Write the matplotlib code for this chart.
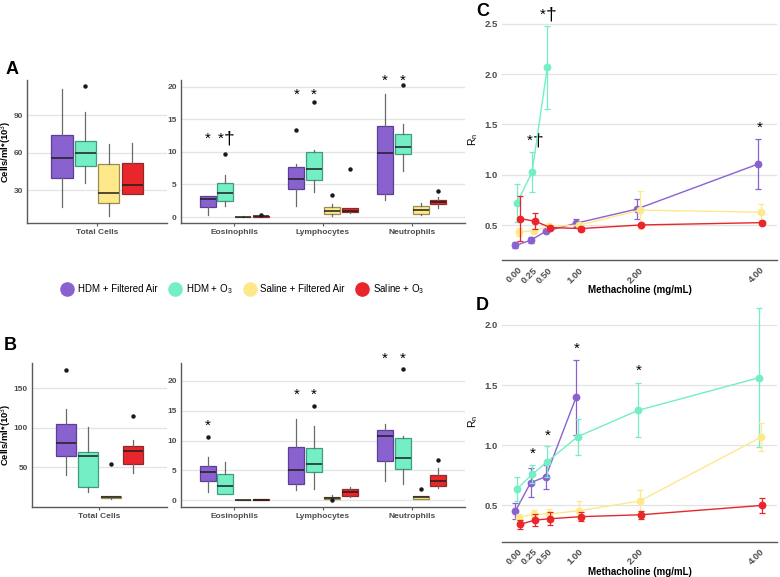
import numpy as np
import matplotlib
matplotlib.use("Agg")
import matplotlib.pyplot as plt
from matplotlib.lines import Line2D

plt.rcParams['font.family'] = ['Liberation Sans', 'DejaVu Sans']
plt.rcParams['mathtext.fontset'] = 'custom'
plt.rcParams['mathtext.rm'] = 'Liberation Sans'
plt.rcParams['mathtext.it'] = 'Liberation Sans:italic'
plt.rcParams['mathtext.bf'] = 'Liberation Sans:bold'

# ---- data ----
groups = ["HDM + Filtered Air", "HDM + O$_3$", "Saline + Filtered Air", "Saline + O$_3$"]
fills = ['#8a62d0', '#74eec4', '#fde98c', '#e8262b']
edges = ['#5b3f96', '#3f9c7c', '#9a8c4c', '#8e2a2a']
cells = ["Eosinophils", "Lymphocytes", "Neutrophils"]

# A: total cells, one entry per group  (q1, med, q3, whisker lo, whisker hi, outliers)
A_tot_q1 = [39.5, 49, 19.7, 27]
A_tot_med = [56, 60, 27.6, 34]
A_tot_q3 = [74, 69, 51, 52]
A_tot_lo = [16.5, 36, 9.3, 27]
A_tot_hi = [111, 92.4, 67, 68]
A_tot_out = [[], [113], [], []]

# A: cell types, rows = cells, cols = groups
A_q1 = [[1.55, 2.5, 0.0, 0.05], [4.36, 5.74, 0.5, 0.72], [3.6, 9.6, 0.5, 2.05]]
A_med = [[2.7, 3.76, 0.02, 0.1], [5.9, 7.4, 0.92, 1.0], [9.85, 10.7, 1.03, 2.3]]
A_q3 = [[3.25, 5.15, 0.05, 0.12], [7.6, 9.9, 1.54, 1.33], [13.95, 12.8, 1.64, 2.67]]
A_lo = [[0.4, 1.7, 0.0, 0.05], [1.7, 3.85, 0.1, 0.6], [2.56, 7.1, 0.26, 1.44]]
A_hi = [[3.3, 6.5, 0.1, 0.15], [8.2, 10.25, 2.05, 1.4], [18.9, 14.3, 2.15, 3.1]]
A_out = [[[], [9.7], [], [0.25]], [[13.3], [17.6], [3.4], [7.3]], [[], [20.2], [], [3.95]]]

# B: total cells
B_tot_q1 = [64.7, 24.8, 10.5, 54.6]
B_tot_med = [80.3, 64.3, 12.2, 70.6]
B_tot_q3 = [104.2, 69, 13.9, 77.3]
B_tot_lo = [40, 19.3, 10, 43.3]
B_tot_hi = [123.5, 101, 14, 84.5]
B_tot_out = [[173.5], [], [54], [114.7]]

# B: cell types
B_q1 = [[3.24, 1.12, 0.0, 0.05], [2.79, 4.74, 0.17, 0.73], [6.64, 5.19, 0.28, 2.46]]
B_med = [[4.69, 2.46, 0.03, 0.1], [5.08, 6.0, 0.33, 1.4], [10.8, 7.03, 0.5, 3.18]]
B_q3 = [[5.75, 4.35, 0.06, 0.15], [8.87, 8.8, 0.5, 1.9], [11.8, 10.4, 0.73, 4.18]]
B_lo = [[1.45, 1.0, 0.0, 0.05], [1.67, 1.95, 0.0, 0.6], [3.24, 2.68, 0.2, 2.0]]
B_hi = [[7.3, 6.47, 0.1, 0.2], [13.6, 12.4, 0.9, 2.2], [12.7, 10.8, 0.8, 5.36]]
B_out = [[[10.66], [], [], []], [[], [15.7], [0.0], []], [[], [21.9], [1.84], [6.75]]]

# significance marks: (cell index, group index, y, text)
A_marks = [(0, 0, 12.6, '*'), (0, 1, 12.6, '*†'), (1, 0, 19.3, '*'), (1, 1, 19.3, '*'),
           (2, 0, 21.5, '*'), (2, 1, 21.5, '*')]
B_marks = [(0, 0, 13.0, '*'), (1, 0, 18.2, '*'), (1, 1, 18.2, '*'),
           (2, 0, 24.3, '*'), (2, 1, 24.3, '*')]

# C / D: methacholine dose response, mean and error
dose = [0, 0.25, 0.5, 1, 2, 4]
C_mean = [[0.30, 0.35, 0.44, 0.52, 0.66, 1.106],
          [0.72, 1.03, 2.066],
          [0.434, 0.444, 0.49, 0.50, 0.65, 0.63],
          [0.566, 0.54, 0.477, 0.467, 0.503, 0.526]]
C_err = [[0.03, 0.03, 0.015, 0.04, 0.1, 0.25],
         [0.19, 0.2, 0.41],
         [0.04, 0.02, 0.02, 0.02, 0.19, 0.08],
         [0.22, 0.08, 0.02, 0.02, 0.015, 0.015]]
D_mean = [[0.453, 0.689, 0.738, 1.398],
          [0.636, 0.758, 0.863, 1.071, 1.29, 1.562],
          [0.397, 0.428, 0.428, 0.456, 0.536, 1.066],
          [0.342, 0.378, 0.389, 0.406, 0.422, 0.50]]
D_err = [[0.065, 0.12, 0.1, 0.31],
         [0.1, 0.075, 0.13, 0.15, 0.225, 0.58],
         [0.03, 0.03, 0.04, 0.08, 0.095, 0.115],
         [0.04, 0.05, 0.055, 0.035, 0.035, 0.065]]
C_marks = [(0.27, 1.37, '*†'), (0.48, 2.62, '*†'), (4.0, 1.5, '*')]
D_marks = [(0.24, 0.955, '*'), (0.49, 1.11, '*'), (0.97, 1.83, '*'), (2.0, 1.65, '*')]

offs = [-0.3, -0.1, 0.1, 0.3]
dodge = [-0.0375, -0.0125, 0.0125, 0.0375]
tick_col = '#4d4d4d'

fig = plt.figure(figsize=(7.8, 5.77), dpi=100)


def style(ax, yticks, left_spine=True, fs=6):
    for s in ['top', 'right']:
        ax.spines[s].set_visible(False)
    ax.spines['left'].set_visible(left_spine)
    for s in ['left', 'bottom']:
        ax.spines[s].set_color('#5a5a5a')
        ax.spines[s].set_linewidth(1.0)
    ax.set_yticks(yticks)
    ax.yaxis.grid(True, color='#e3e3e3', linewidth=0.9)
    ax.set_axisbelow(True)
    ax.tick_params(axis='y', length=0, labelsize=fs, labelcolor=tick_col, pad=3)
    ax.tick_params(axis='x', length=2.5, color='#5a5a5a', labelsize=fs, labelcolor=tick_col, pad=2)
    for lab in ax.get_xticklabels() + ax.get_yticklabels():
        lab.set_fontweight('bold')


def draw_boxes(ax, center, q1, med, q3, lo, hi, out, width):
    for k in range(4):
        st = [dict(q1=q1[k], med=med[k], q3=q3[k], whislo=lo[k], whishi=hi[k], fliers=out[k])]
        ax.bxp(st, positions=[center + offs[k]],
               widths=width, patch_artist=True, showcaps=False, manage_ticks=False,
               boxprops=dict(facecolor=fills[k], edgecolor=edges[k], linewidth=0.9),
               medianprops=dict(color='#1e1e1e', linewidth=1.1),
               whiskerprops=dict(color='#6a6a6a', linewidth=0.9),
               flierprops=dict(marker='o', markersize=2.2, markerfacecolor='#1a1a1a',
                               markeredgecolor='#1a1a1a'))


def star_text(ax, x, y, s, fs=11):
    if '†' in s:
        ax.text(x - 0.02, y, '*', ha='right', va='center', fontsize=fs, clip_on=False)
        ax.text(x - 0.02, y, '†', ha='left', va='center', fontsize=fs + 3, clip_on=False)
    else:
        ax.text(x, y, s, ha='center', va='center', fontsize=fs, clip_on=False)


def box_panel(rect_tot, rect_cell, tot, cel, marks, ylim_tot, yt_tot, ylim_cell, letter, lpos):
    ax1 = fig.add_axes(rect_tot)
    draw_boxes(ax1, 1.0, *tot, width=0.18)
    ax1.set_xlim(0.4, 1.6)
    ax1.set_ylim(*ylim_tot)
    ax1.set_xticks([1])
    ax1.set_xticklabels(["Total Cells"])
    style(ax1, yt_tot)
    ax1.set_ylabel('Cells/ml*(10$^3$)', fontsize=6.8, fontweight='bold')
    ax1.yaxis.set_label_coords((14 - rect_tot[0] * 780) / (rect_tot[2] * 780), 0.5)

    ax2 = fig.add_axes(rect_cell)
    q1, med, q3, lo, hi, out = cel
    for c in range(3):
        draw_boxes(ax2, c + 1, q1[c], med[c], q3[c], lo[c], hi[c], out[c], width=0.18)
    for c, g, y, s in marks:
        star_text(ax2, c + 1 + offs[g], y - 0.6, s)
    ax2.set_xlim(0.4, 3.6)
    ax2.set_ylim(*ylim_cell)
    ax2.set_xticks([1, 2, 3])
    ax2.set_xticklabels(cells)
    style(ax2, [0, 5, 10, 15, 20])
    fig.text(lpos[0], lpos[1], letter, fontsize=13, fontweight='bold', ha='left', va='center')


box_panel([27 / 780, 354 / 577, 140 / 780, 143 / 577], [181 / 780, 354 / 577, 284 / 780, 143 / 577],
          (A_tot_q1, A_tot_med, A_tot_q3, A_tot_lo, A_tot_hi, A_tot_out),
          (A_q1, A_med, A_q3, A_lo, A_hi, A_out), A_marks,
          (3.7, 118), [30, 60, 90], (-0.9, 21), 'A', (6 / 780, 1 - 69 / 577))
box_panel([32 / 780, 70.3 / 577, 135 / 780, 143.4 / 577], [181 / 780, 70.3 / 577, 284 / 780, 143.4 / 577],
          (B_tot_q1, B_tot_med, B_tot_q3, B_tot_lo, B_tot_hi, B_tot_out),
          (B_q1, B_med, B_q3, B_lo, B_hi, B_out), B_marks,
          (0.1, 181.6), [50, 100, 150], (-1.06, 22.9), 'B', (4 / 780, 1 - 345 / 577))


def line_panel(rect, means, errs, marks, ylim, yt, letter, lpos):
    ax = fig.add_axes(rect)
    for k in range(4):
        xs = np.array(dose[:len(means[k])]) + dodge[k]
        ax.errorbar(xs, means[k], yerr=errs[k], fmt='-o', color=fills[k], markersize=4.6,
                    linewidth=1.0, elinewidth=0.9, capsize=2, capthick=0.9, zorder=3 + k)
    for x, y, s in marks:
        star_text(ax, x, y - 0.03, s)
    ax.set_xlim(-0.26, 4.28)
    ax.set_ylim(*ylim)
    ax.set_xticks(dose)
    ax.set_xticklabels(['%.2f' % d for d in dose], rotation=45, ha='right', rotation_mode='anchor')
    style(ax, yt, left_spine=False, fs=6.8)
    ax.tick_params(axis='x', length=0, pad=4)
    ax.set_yticklabels(['%.1f' % v for v in yt])
    for lab in ax.get_xticklabels() + ax.get_yticklabels():
        lab.set_fontweight('bold')
    ax.set_xlabel('Methacholine (mg/mL)', fontsize=7, fontweight='bold', labelpad=0)
    ax.set_ylabel('R$_\\mathrm{n}$', fontsize=7.5)
    ax.yaxis.set_label_coords(-22 / 275, 0.5)
    fig.text(lpos[0], lpos[1], letter, fontsize=13, fontweight='bold', ha='left', va='center')


line_panel([502 / 780, 317 / 577, 275 / 780, 241.3 / 577], C_mean, C_err, C_marks,
           (0.155, 2.55), [0.5, 1.0, 1.5, 2.0, 2.5], 'C', (476 / 780, 1 - 11 / 577))
line_panel([502 / 780, 35.3 / 577, 275 / 780, 240.8 / 577], D_mean, D_err, D_marks,
           (0.198, 2.2), [0.5, 1.0, 1.5, 2.0], 'D', (476 / 780, 1 - 305 / 577))

handles = [Line2D([], [], marker='o', linestyle='', markersize=9.5, markerfacecolor=fills[k],
                  markeredgecolor=fills[k]) for k in range(4)]
fig.legend(handles, groups, ncol=4, loc='center', bbox_to_anchor=(243 / 780, 1 - 289 / 577),
           frameon=False, fontsize=7, handletextpad=0.5, columnspacing=1.2, handlelength=1.2)

fig.savefig('out.png', dpi=100)
